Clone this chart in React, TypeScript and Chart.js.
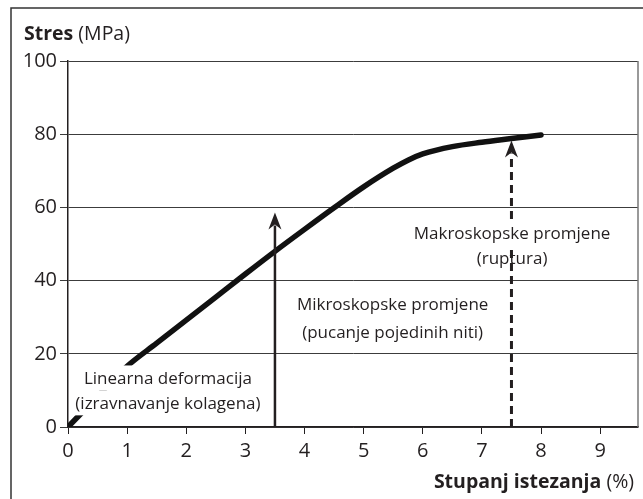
import React, { useEffect, useRef } from "react";
import { Chart, registerables } from "chart.js";

Chart.register(...registerables);

// ---- data ----
const strain = [0, 0.5, 1, 1.5, 2, 2.5, 3, 3.5, 4, 4.5, 5, 5.5, 5.75, 6, 6.5, 7, 7.5, 8];
const stress = [0, 8.4, 16.6, 22.9, 29.2, 35.5, 41.8, 48, 54, 59.9, 65.6, 70.7, 72.9, 74.6, 76.6, 77.8, 78.8, 79.8];
const xTickValues = [0, 1, 2, 3, 4, 5, 6, 7, 8, 9];
const yTickValues = [0, 20, 40, 60, 80, 100];
const xMax = 9.64;
const yMax = 100;

const yTitleBold = "Stres";
const yTitleRest = " (MPa)";
const xTitleBold = "Stupanj istezanja";
const xTitleRest = " (%)";

// arrows: x position, from value, to value
const solidArrow = { x: 3.5, from: 0, to: 58.6 };
const dashedArrow = { x: 7.5, from: 0, to: 78.3 };

// annotation labels (data-coordinate anchors, one entry per line)
const noteLines = [
  { text: "Linearna deformacija", x: 1.69, y: 13.4, bg: true },
  { text: "(izravnavanje kolagena)", x: 1.69, y: 6.6, bg: true },
  { text: "Mikroskopske promjene", x: 5.49, y: 33.7, bg: true },
  { text: "(pucanje pojedinih niti)", x: 5.49, y: 25.8, bg: true },
  { text: "Makroskopske promjene", x: 7.51, y: 52.9, bg: true },
  { text: "(ruptura)", x: 7.51, y: 46.1, bg: false },
];

const FONT = "'Open Sans', 'Noto Sans', sans-serif";
const INK = "#231f20";

Chart.defaults.font.family = FONT;
Chart.defaults.font.size = 20;
Chart.defaults.color = INK;

const drawArrow = (ctx: CanvasRenderingContext2D, x: number, y0: number, y1: number, dashed: boolean) => {
  const headLen = 17;
  const headHalf = 6.5;
  ctx.save();
  ctx.strokeStyle = INK;
  ctx.fillStyle = INK;
  ctx.lineWidth = dashed ? 3 : 2.5;
  if (dashed) ctx.setLineDash([8, 5]);
  ctx.beginPath();
  ctx.moveTo(x, y0);
  ctx.lineTo(x, y1 + headLen - 4);
  ctx.stroke();
  ctx.setLineDash([]);
  ctx.beginPath();
  ctx.moveTo(x, y1);
  ctx.lineTo(x + headHalf, y1 + headLen);
  ctx.lineTo(x, y1 + headLen - 5);
  ctx.lineTo(x - headHalf, y1 + headLen);
  ctx.closePath();
  ctx.fill();
  ctx.restore();
};

const decorPlugin = {
  id: "decor",
  beforeDraw(chart: any) {
    const { ctx, width, height } = chart;
    ctx.save();
    ctx.fillStyle = "#ffffff";
    ctx.fillRect(0, 0, width, height);
    ctx.strokeStyle = "#333333";
    ctx.lineWidth = 1.5;
    ctx.beginPath();
    ctx.moveTo(11, height + 2);
    ctx.lineTo(11, 8);
    ctx.lineTo(width + 2, 8);
    ctx.stroke();
    ctx.restore();
  },
  afterDatasetsDraw(chart: any) {
    const { ctx, chartArea } = chart;
    const xs = chart.scales.x;
    const ys = chart.scales.y;
    // right border
    ctx.save();
    ctx.strokeStyle = "#777777";
    ctx.lineWidth = 1.5;
    ctx.beginPath();
    ctx.moveTo(chartArea.right, chartArea.top);
    ctx.lineTo(chartArea.right, chartArea.bottom);
    ctx.stroke();
    ctx.restore();

    drawArrow(ctx, xs.getPixelForValue(solidArrow.x), ys.getPixelForValue(solidArrow.from), ys.getPixelForValue(solidArrow.to), false);
    drawArrow(ctx, xs.getPixelForValue(dashedArrow.x), ys.getPixelForValue(dashedArrow.from), ys.getPixelForValue(dashedArrow.to), true);

    ctx.save();
    ctx.font = `17px ${FONT}`;
    ctx.textAlign = "center";
    ctx.textBaseline = "middle";
    for (const l of noteLines) {
      const px = xs.getPixelForValue(l.x);
      const py = ys.getPixelForValue(l.y);
      if (l.bg) {
        const w = ctx.measureText(l.text).width;
        ctx.fillStyle = "#ffffff";
        ctx.fillRect(px - w / 2 - 3, py - 12.5, w + 6, 25);
      }
    }
    ctx.fillStyle = INK;
    for (const l of noteLines) {
      ctx.fillText(l.text, xs.getPixelForValue(l.x), ys.getPixelForValue(l.y) + 1);
    }
    ctx.restore();

    // axis titles
    ctx.save();
    ctx.fillStyle = INK;
    ctx.textBaseline = "alphabetic";
    ctx.textAlign = "left";
    ctx.font = `bold 19.5px ${FONT}`;
    const bw = ctx.measureText(yTitleBold).width;
    ctx.fillText(yTitleBold, 24, 40);
    ctx.font = `19.5px ${FONT}`;
    ctx.fillText(yTitleRest, 24 + bw, 40);

    ctx.font = `19.5px ${FONT}`;
    const rw = ctx.measureText(xTitleRest).width;
    ctx.textAlign = "right";
    ctx.fillText(xTitleRest, 634, 488);
    ctx.font = `bold 19.5px ${FONT}`;
    ctx.fillText(xTitleBold, 634 - rw, 488);
    ctx.restore();
  },
};

export default function App() {
  const ref = useRef<HTMLCanvasElement | null>(null);
  useEffect(() => {
    if (!ref.current) return;
    const chart = new Chart(ref.current, {
      type: "line",
      data: {
        datasets: [
          {
            data: strain.map((x, i) => ({ x, y: stress[i] })),
            borderColor: "#111111",
            borderWidth: 5.5,
            pointRadius: 0,
            cubicInterpolationMode: "monotone",
            fill: false,
            borderCapStyle: "round",
          },
        ],
      },
      options: {
        animation: false,
        responsive: false,
        maintainAspectRatio: false,
        layout: { padding: { top: 61, right: 5, left: 0, bottom: 0 } },
        plugins: { legend: { display: false }, tooltip: { enabled: false } },
        scales: {
          x: {
            type: "linear",
            min: 0,
            max: xMax,
            afterBuildTicks: (axis: any) => {
              axis.ticks = xTickValues.map((v) => ({ value: v }));
            },
            afterFit: (axis: any) => {
              axis.height = 72;
            },
            grid: { drawOnChartArea: false, drawTicks: true, tickLength: 7, color: INK, lineWidth: 1 },
            border: { display: true, color: INK, width: 1.5 },
            ticks: { font: { family: FONT, size: 20 }, color: INK, padding: 5, maxRotation: 0, autoSkip: false },
          },
          y: {
            type: "linear",
            min: 0,
            max: yMax,
            afterBuildTicks: (axis: any) => {
              axis.ticks = yTickValues.map((v) => ({ value: v }));
            },
            afterFit: (axis: any) => {
              axis.width = 68;
            },
            grid: { drawOnChartArea: true, drawTicks: true, tickLength: 8, color: "#3c3c3c", lineWidth: 1 },
            border: { display: true, color: INK, width: 1.5 },
            ticks: { font: { family: FONT, size: 20 }, color: INK, padding: 3, autoSkip: false },
          },
        },
      },
      plugins: [decorPlugin],
    } as any);
    return () => chart.destroy();
  }, []);
  return (
    <div style={{ position: "fixed", left: 0, top: 0, width: 643, height: 499 }}>
      <canvas ref={ref} width={643} height={499} style={{ display: "block" }} />
    </div>
  );
}
